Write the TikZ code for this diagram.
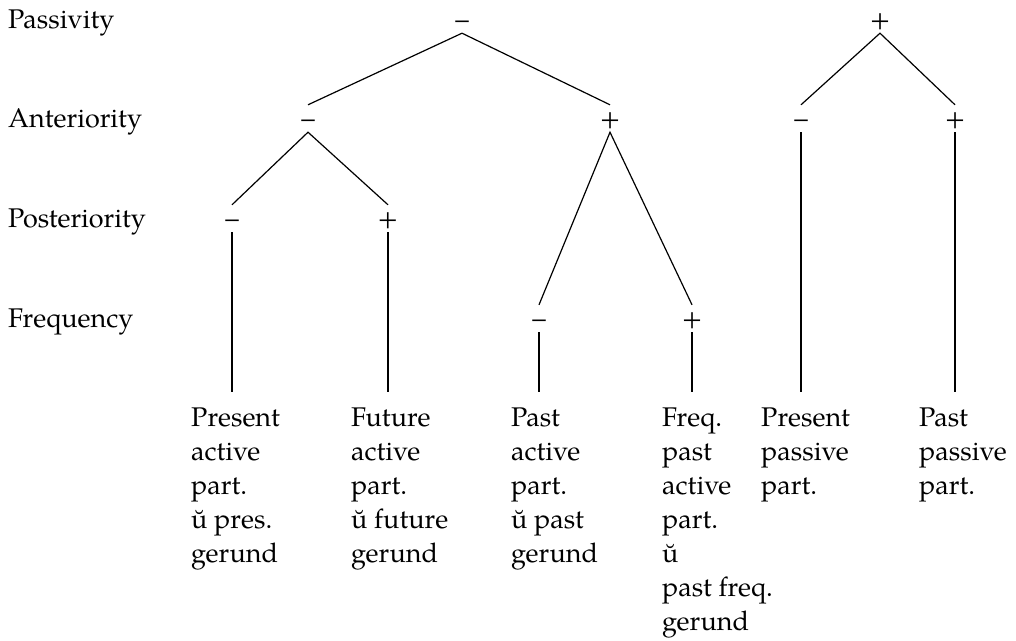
\documentclass[tikz,border=0pt]{standalone}
\usepackage{fontspec}
\setmainfont{TeX Gyre Pagella}
\begin{document}
\begin{tikzpicture}[x=1pt,y=-1pt,
  every node/.style={font=\fontsize{27}{34}\selectfont},
  feature/.style={anchor=base west, inner sep=0pt},
  sign/.style={anchor=base, inner sep=0pt, text height=22pt, text depth=5pt},
  leaf/.style={anchor=base west, inner sep=0pt},
  branch/.style={line width=1.2pt}]
\useasboundingbox (0,0) rectangle (1016,640);

% feature names
\node[feature] (lpas) at (8,28)  {Passivity};
\node[feature] (lant) at (8,127) {Anteriority};
\node[feature] (lpos) at (8,227) {Posteriority};
\node[feature] (lfrq) at (8,327) {Frequency};

% feature values
\node[sign] (p0)  at (462,28)  {–};
\node[sign] (p1)  at (880,28)  {+};
\node[sign] (a0)  at (308,127) {–};
\node[sign] (a1)  at (610,127) {+};
\node[sign] (pa0) at (801,127) {–};
\node[sign] (pa1) at (955,127) {+};
\node[sign] (q0)  at (232,227) {–};
\node[sign] (q1)  at (388,227) {+};
\node[sign] (f0)  at (539,327) {–};
\node[sign] (f1)  at (692,327) {+};

% lower ends of the stems
\coordinate (e1) at (232,392);
\coordinate (e2) at (388,392);
\coordinate (e3) at (539,392);
\coordinate (e4) at (692,392);
\coordinate (e5) at (801,392);
\coordinate (e6) at (955,392);

% branches
\draw[branch] (a0.north) -- (p0.south) -- (a1.north);
\draw[branch] (pa0.north) -- (p1.south) -- (pa1.north);
\draw[branch] (q0.north) -- (a0.south) -- (q1.north);
\draw[branch] (f0.north) -- (a1.south) -- (f1.north);
\draw[branch] (q0.south) -- (e1);
\draw[branch] (q1.south) -- (e2);
\draw[branch] (f0.south) -- (e3);
\draw[branch] (f1.south) -- (e4);
\draw[branch] (pa0.south) -- (e5);
\draw[branch] (pa1.south) -- (e6);

% participle forms
\node[leaf] (l1) at (191,426) {\begin{tabular}[t]{@{}l@{}}Present\\active\\part.\\ŭ pres.\\gerund\end{tabular}};
\node[leaf] (l2) at (351,426) {\begin{tabular}[t]{@{}l@{}}Future\\active\\part.\\ŭ future\\gerund\end{tabular}};
\node[leaf] (l3) at (511,426) {\begin{tabular}[t]{@{}l@{}}Past\\active\\part.\\ŭ past\\gerund\end{tabular}};
\node[leaf] (l4) at (662,426) {\begin{tabular}[t]{@{}l@{}}Freq.\\past\\active\\part.\\ŭ\\past freq.\\gerund\end{tabular}};
\node[leaf] (l5) at (761,426) {\begin{tabular}[t]{@{}l@{}}Present\\passive\\part.\end{tabular}};
\node[leaf] (l6) at (919,426) {\begin{tabular}[t]{@{}l@{}}Past\\passive\\part.\end{tabular}};
\end{tikzpicture}
\end{document}
